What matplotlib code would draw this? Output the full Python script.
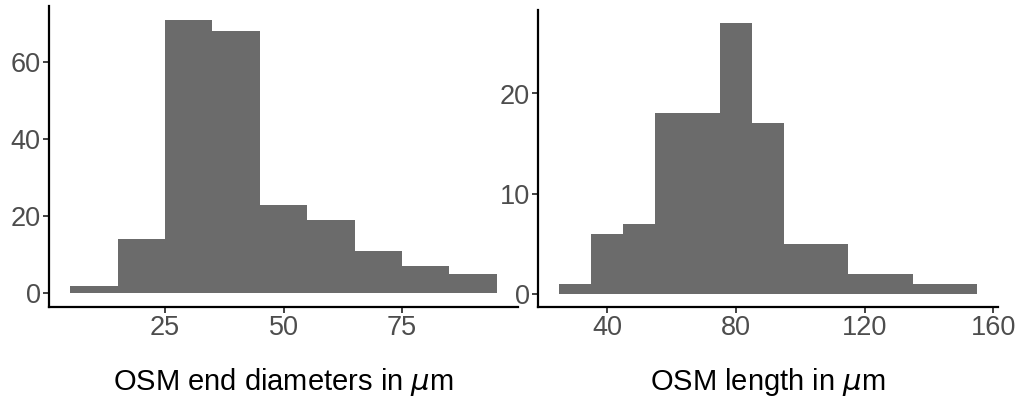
import matplotlib
matplotlib.use("Agg")
import matplotlib.pyplot as plt
import numpy as np

plt.rcParams['font.family'] = ['Liberation Sans', 'DejaVu Sans']
plt.rcParams['mathtext.fontset'] = 'dejavusans'

# Left panel: OSM end diameters (bin width 10)
diam_edges = [5, 15, 25, 35, 45, 55, 65, 75, 85, 95]
diam_counts = [2, 14, 71, 68, 23, 19, 11, 7, 5]
diam_ticks = [25, 50, 75]
diam_yticks = [0, 20, 40, 60]

# Right panel: OSM length (bin width 10)
len_edges = [25, 35, 45, 55, 65, 75, 85, 95, 105, 115, 125, 135, 145, 155]
len_counts = [1, 6, 7, 18, 18, 27, 17, 5, 5, 2, 2, 1, 1]
len_ticks = [40, 80, 120, 160]
len_yticks = [0, 10, 20]

BAR = '#6b6b6b'
TICKCOL = '#4d4d4d'

fig = plt.figure(figsize=(10.18, 4.0), dpi=100)
ax1 = fig.add_axes([49/1018, 93/400, 469/1018, 301/400])
ax2 = fig.add_axes([538/1018, 93/400, 460/1018, 297/400])


def draw(ax, edges, counts, xticks, yticks, xlabel):
    edges = np.array(edges, float)
    ax.stairs(counts, edges, fill=True, color=BAR, linewidth=0)
    xr = edges[-1] - edges[0]
    ax.set_xlim(edges[0] - 0.05 * xr, edges[-1] + 0.05 * xr)
    ym = max(counts)
    ax.set_ylim(-0.05 * ym, ym * 1.05)
    ax.set_xticks(xticks)
    ax.set_yticks(yticks)
    for s in ['top', 'right']:
        ax.spines[s].set_visible(False)
    for s in ['left', 'bottom']:
        ax.spines[s].set_linewidth(1.6)
        ax.spines[s].set_color('black')
    ax.tick_params(axis='both', length=4, width=1.3, color='#333333',
                   labelsize=19.5, labelcolor=TICKCOL, pad=2)
    ax.set_xlabel(xlabel, fontsize=21, color='black', labelpad=18)


draw(ax1, diam_edges, diam_counts, diam_ticks, diam_yticks,
     r'OSM end diameters in $\mu$m')
draw(ax2, len_edges, len_counts, len_ticks, len_yticks,
     r'OSM length in $\mu$m')

fig.savefig('out.png', dpi=100)
